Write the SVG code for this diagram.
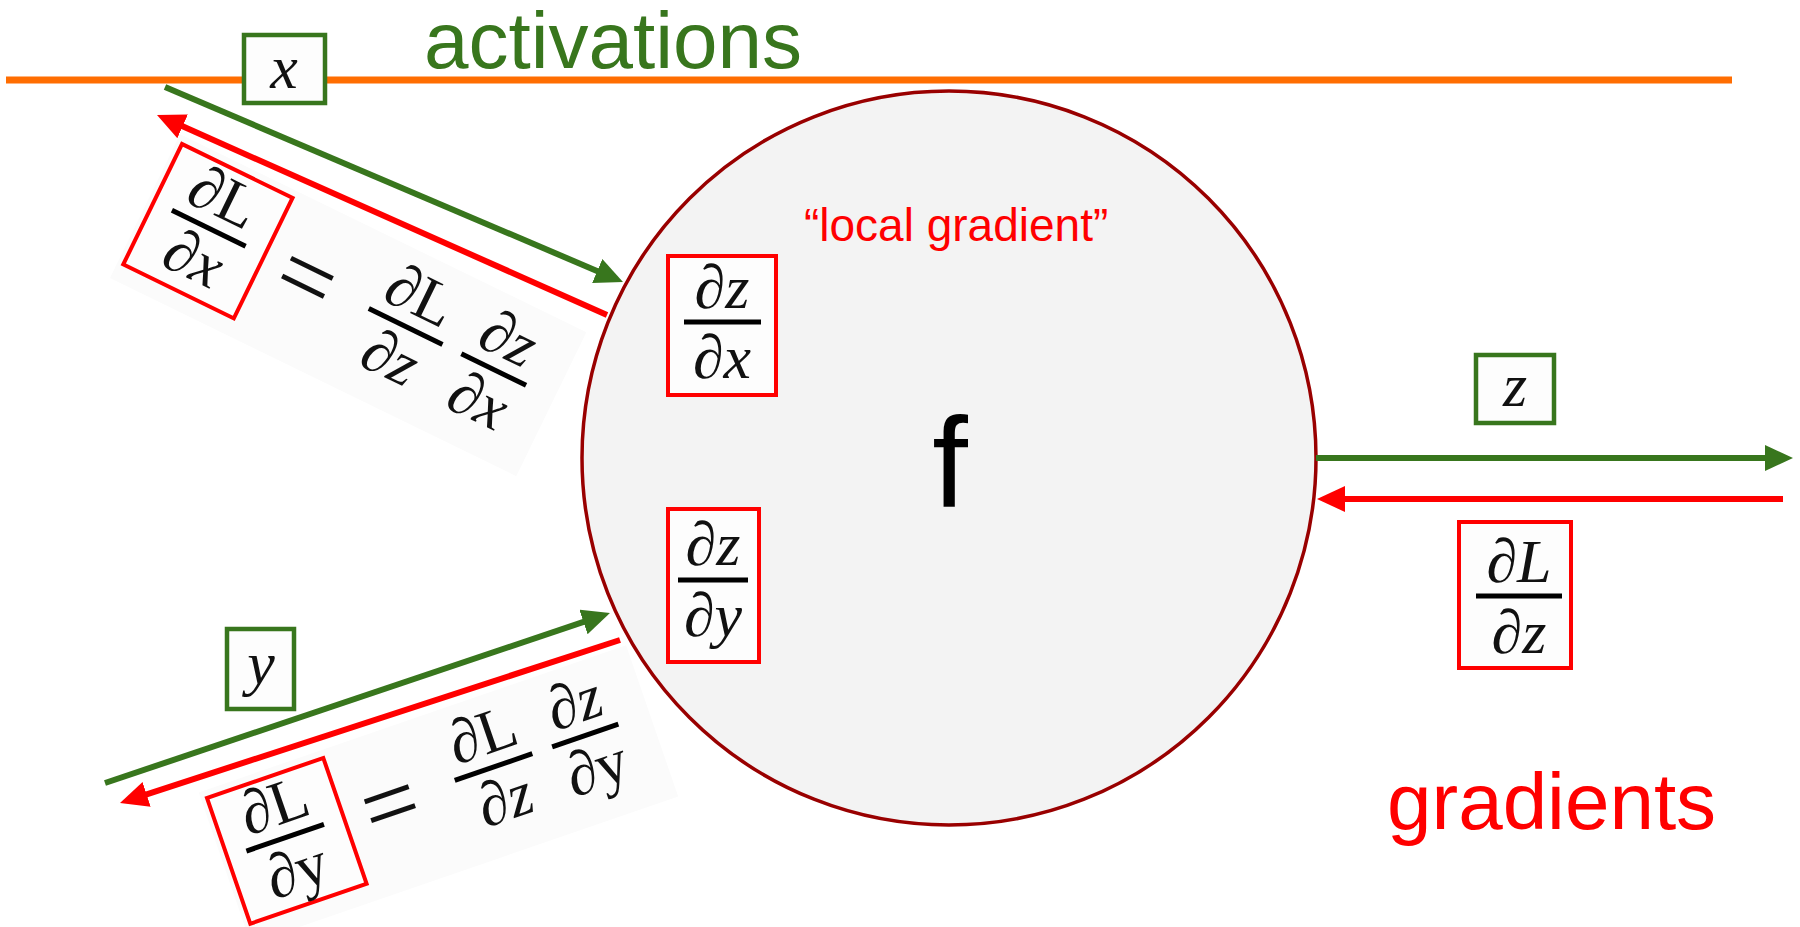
<svg xmlns="http://www.w3.org/2000/svg" width="1800" height="927" viewBox="0 0 1800 927">
<defs>
<style>
.m{font-family:"Liberation Serif","DejaVu Serif",serif;font-style:italic;font-size:62px;fill:#111;text-anchor:middle}
.up{font-style:normal}
.eq{font-family:"Liberation Serif","DejaVu Serif",serif;font-size:100px;fill:#111;text-anchor:middle}
.bar{stroke:#000;stroke-width:5}
.rbox{fill:#fdfdfd;stroke:#ff0000;stroke-width:4}
.gbox{fill:#fdfdfd;stroke:#38761d;stroke-width:4.5}
.g{stroke:#38761d;stroke-width:6;fill:none}
.r{stroke:#ff0000;stroke-width:6;fill:none}
.sans{font-family:"Liberation Sans",Arial,sans-serif}
.eqbg{fill:#fbfbfb}
</style>
<marker id="ag" markerUnits="userSpaceOnUse" markerWidth="30" markerHeight="28" refX="8" refY="13" orient="auto">
<path d="M0,0 L28,13 L0,26 z" fill="#38761d"/>
</marker>
<marker id="ar" markerUnits="userSpaceOnUse" markerWidth="30" markerHeight="28" refX="8" refY="13" orient="auto">
<path d="M0,0 L28,13 L0,26 z" fill="#ff0000"/>
</marker>
</defs>
<rect width="1800" height="927" fill="#fff"/>

<g id="activations-line">
<line x1="6" y1="80" x2="1732" y2="80" stroke="#ff6d01" stroke-width="7"/>
</g>
<g id="label-activations">
<text x="424" y="68" class="sans" font-size="80" fill="#38761d">activations</text>
</g>
<g id="label-gradients">
<text x="1387" y="829" class="sans" font-size="80" fill="#ff0000">gradients</text>
</g>

<g id="node-f">
<circle cx="949" cy="458" r="367" fill="#f3f3f3" stroke="#990000" stroke-width="3.5"/>
<text x="950" y="507" class="sans" font-size="128" fill="#000" text-anchor="middle">f</text>
<text x="804" y="241" class="sans" font-size="46" fill="#ff0000">“local gradient”</text>
</g>

<g id="node-dzdx">
<rect class="rbox" x="668" y="256" width="108" height="139"/>
<line class="bar" x1="684" y1="322" x2="761" y2="322"/>
<text class="m" x="722" y="308">∂z</text>
<text class="m" x="722" y="378">∂x</text>
</g>

<g id="node-dzdy">
<rect class="rbox" x="668" y="509" width="91" height="153"/>
<line class="bar" x1="678" y1="580" x2="748" y2="580"/>
<text class="m" x="713" y="565">∂z</text>
<text class="m" x="713" y="636">∂y</text>
</g>

<g id="node-x">
<rect class="gbox" x="244" y="35" width="81" height="68"/>
<text class="m" x="284" y="88" font-size="84">x</text>
</g>

<g id="node-y">
<rect class="gbox" x="227" y="629" width="67" height="80"/>
<text class="m" x="261" y="684" font-size="84">y</text>
</g>

<g id="node-z">
<rect class="gbox" x="1476" y="355" width="78" height="68"/>
<text class="m" x="1515" y="406" font-size="84">z</text>
</g>

<g id="node-dLdz">
<rect class="rbox" x="1459" y="522" width="112" height="146"/>
<line class="bar" x1="1476" y1="596" x2="1562" y2="596"/>
<text class="m" x="1519" y="582">∂L</text>
<text class="m" x="1519" y="653">∂z</text>
</g>

<g id="eq-x" transform="translate(182,144) rotate(26)">
<rect class="eqbg" x="-6" y="-8" width="452" height="160"/>
<rect class="rbox" x="0" y="0" width="123" height="134"/>
<line class="bar" x1="20" y1="64" x2="102" y2="64"/>
<text class="m" x="61" y="50">∂<tspan class="up">L</tspan></text>
<text class="m" x="61" y="118">∂x</text>
<text class="eq" x="171" y="98">=</text>
<line class="bar" x1="240" y1="66" x2="322" y2="66"/>
<text class="m" x="281" y="52">∂<tspan class="up">L</tspan></text>
<text class="m" x="281" y="121">∂z</text>
<line class="bar" x1="343" y1="66" x2="415" y2="66"/>
<text class="m" x="379" y="52">∂z</text>
<text class="m" x="379" y="121">∂x</text>
</g>

<g id="eq-y" transform="translate(207,798) rotate(-19)">
<rect class="eqbg" x="-6" y="-8" width="452" height="160"/>
<rect class="rbox" x="0" y="0" width="123" height="133"/>
<line class="bar" x1="20" y1="63" x2="102" y2="63"/>
<text class="m" x="61" y="49">∂<tspan class="up">L</tspan></text>
<text class="m" x="61" y="118">∂<tspan class="up">y</tspan></text>
<text class="eq" x="171" y="98">=</text>
<line class="bar" x1="240" y1="64" x2="322" y2="64"/>
<text class="m" x="281" y="50">∂<tspan class="up">L</tspan></text>
<text class="m" x="281" y="119">∂z</text>
<line class="bar" x1="343" y1="64" x2="413" y2="64"/>
<text class="m" x="378" y="50">∂z</text>
<text class="m" x="378" y="119">∂<tspan class="up">y</tspan></text>
</g>

<g id="connectors">
<line class="g" x1="165" y1="87" x2="604.6" y2="274.2" marker-end="url(#ag)"/>
<line class="r" x1="607" y1="315" x2="175.3" y2="123.1" marker-end="url(#ar)"/>
<line class="g" x1="1316" y1="458" x2="1773" y2="458" marker-end="url(#ag)"/>
<line class="r" x1="1783" y1="499" x2="1337" y2="499" marker-end="url(#ar)"/>
<line class="g" x1="105" y1="783" x2="591" y2="619.4" marker-end="url(#ag)"/>
<line class="r" x1="620" y1="640" x2="139" y2="796.8" marker-end="url(#ar)"/>
</g>
</svg>
